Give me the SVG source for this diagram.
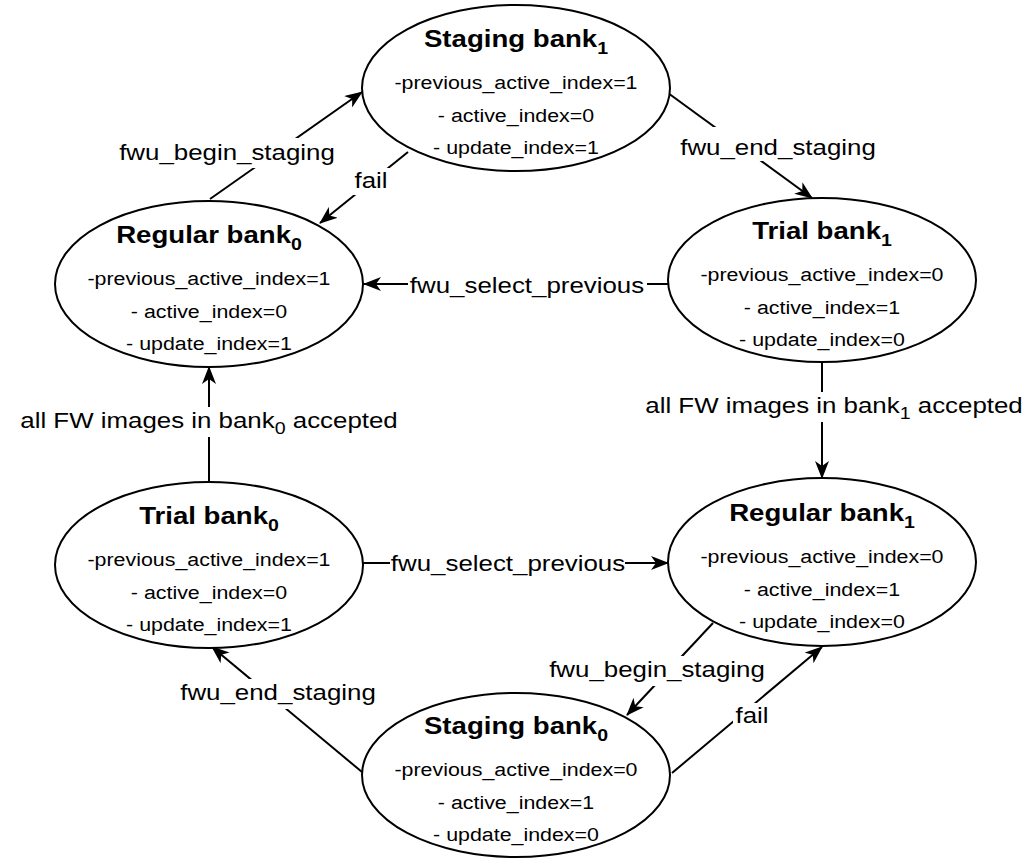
<svg xmlns="http://www.w3.org/2000/svg" width="1033" height="858" viewBox="0 0 1033 858">
  <style>
    .state { fill: #ffffff; stroke: #000000; stroke-width: 2; }
    .title { font-family: "Liberation Sans", Arial, sans-serif; font-size: 24px; font-weight: bold; fill: #000000; text-anchor: middle; }
    .attr { font-family: "Liberation Sans", Arial, sans-serif; font-size: 18.6px; fill: #000000; text-anchor: middle; }
    .edge { fill: none; stroke: #000000; stroke-width: 2; }
    .lbl { font-family: "Liberation Sans", Arial, sans-serif; font-size: 22.5px; fill: #000000; text-anchor: middle; }
    .lblbg { fill: #ffffff; stroke: none; }
  </style>
  <defs>
    <marker id="arrow" viewBox="0 0 18 14" refX="17" refY="7" markerWidth="18" markerHeight="14" markerUnits="userSpaceOnUse" orient="auto">
      <path d="M0,0 L18,7 L0,14 L5,7 Z" fill="#000000"/>
    </marker>
  </defs>
  <rect width="1033" height="858" fill="#ffffff"/>

  <!-- transitions -->
  <g id="connectors">
    <line class="edge" x1="210" y1="199" x2="362" y2="92" marker-end="url(#arrow)"/>
    <line class="edge" x1="408" y1="152" x2="320" y2="223" marker-end="url(#arrow)"/>
    <line class="edge" x1="668" y1="93" x2="812" y2="198" marker-end="url(#arrow)"/>
    <line class="edge" x1="668" y1="284" x2="364" y2="284" marker-end="url(#arrow)"/>
    <line class="edge" x1="822" y1="362" x2="822" y2="478" marker-end="url(#arrow)"/>
    <line class="edge" x1="209" y1="482" x2="209" y2="367" marker-end="url(#arrow)"/>
    <line class="edge" x1="363" y1="563" x2="668" y2="563" marker-end="url(#arrow)"/>
    <line class="edge" x1="713" y1="623" x2="627" y2="715" marker-end="url(#arrow)"/>
    <line class="edge" x1="672" y1="773" x2="822" y2="647" marker-end="url(#arrow)"/>
    <line class="edge" x1="362" y1="772" x2="212" y2="647" marker-end="url(#arrow)"/>

    <!-- edge labels -->
    <rect class="lblbg" x="117" y="138" width="221" height="30"/>
    <text class="lbl" transform="translate(227,160) scale(1.15,1)">fwu_begin_staging</text>

    <rect class="lblbg" x="352" y="168" width="39" height="27"/>
    <text class="lbl" transform="translate(371,188) scale(1.15,1)">fail</text>

    <rect class="lblbg" x="677" y="127" width="202" height="34"/>
    <text class="lbl" transform="translate(778,155) scale(1.15,1)">fwu_end_staging</text>

    <rect class="lblbg" x="408" y="270" width="239" height="30"/>
    <text class="lbl" transform="translate(527,293) scale(1.15,1)">fwu_select_previous</text>

    <rect class="lblbg" x="643" y="392" width="382" height="30"/>
    <text class="lbl" transform="translate(834,413) scale(1.15,1)">all FW images in bank<tspan font-size="17" dy="6">1</tspan><tspan dy="-6"> accepted</tspan></text>

    <rect class="lblbg" x="18" y="407" width="382" height="30"/>
    <text class="lbl" transform="translate(209,428) scale(1.15,1)">all FW images in bank<tspan font-size="17" dy="6">0</tspan><tspan dy="-6"> accepted</tspan></text>

    <rect class="lblbg" x="390" y="549" width="235" height="30"/>
    <text class="lbl" transform="translate(508,571) scale(1.15,1)">fwu_select_previous</text>

    <rect class="lblbg" x="548" y="656" width="219" height="30"/>
    <text class="lbl" transform="translate(657,677) scale(1.15,1)">fwu_begin_staging</text>

    <rect class="lblbg" x="733" y="703" width="37" height="27"/>
    <text class="lbl" transform="translate(752,723) scale(1.15,1)">fail</text>

    <rect class="lblbg" x="178" y="679" width="199" height="30"/>
    <text class="lbl" transform="translate(278,700) scale(1.15,1)">fwu_end_staging</text>
  </g>

  <!-- states -->
  <g id="staging-bank1">
    <ellipse class="state" cx="516" cy="88" rx="154" ry="83"/>
    <g transform="translate(516,88) scale(1.15,1)">
      <text class="title" y="-41">Staging bank<tspan font-size="17" dy="7">1</tspan></text>
      <text class="attr" y="1">-previous_active_index=1</text>
      <text class="attr" y="34">- active_index=0</text>
      <text class="attr" y="66">- update_index=1</text>
    </g>
  </g>

  <g id="regular-bank0">
    <ellipse class="state" cx="209" cy="284" rx="154" ry="83"/>
    <g transform="translate(209,284) scale(1.15,1)">
      <text class="title" y="-41">Regular bank<tspan font-size="17" dy="7">0</tspan></text>
      <text class="attr" y="1">-previous_active_index=1</text>
      <text class="attr" y="34">- active_index=0</text>
      <text class="attr" y="66">- update_index=1</text>
    </g>
  </g>

  <g id="trial-bank1">
    <ellipse class="state" cx="822" cy="280" rx="154" ry="82"/>
    <g transform="translate(822,280) scale(1.15,1)">
      <text class="title" y="-41">Trial bank<tspan font-size="17" dy="7">1</tspan></text>
      <text class="attr" y="1">-previous_active_index=0</text>
      <text class="attr" y="34">- active_index=1</text>
      <text class="attr" y="66">- update_index=0</text>
    </g>
  </g>

  <g id="trial-bank0">
    <ellipse class="state" cx="209" cy="565" rx="154" ry="83"/>
    <g transform="translate(209,565) scale(1.15,1)">
      <text class="title" y="-41">Trial bank<tspan font-size="17" dy="7">0</tspan></text>
      <text class="attr" y="1">-previous_active_index=1</text>
      <text class="attr" y="34">- active_index=0</text>
      <text class="attr" y="66">- update_index=1</text>
    </g>
  </g>

  <g id="regular-bank1">
    <ellipse class="state" cx="822" cy="562" rx="154" ry="84"/>
    <g transform="translate(822,562) scale(1.15,1)">
      <text class="title" y="-41">Regular bank<tspan font-size="17" dy="7">1</tspan></text>
      <text class="attr" y="1">-previous_active_index=0</text>
      <text class="attr" y="34">- active_index=1</text>
      <text class="attr" y="66">- update_index=0</text>
    </g>
  </g>

  <g id="staging-bank0">
    <ellipse class="state" cx="516" cy="775" rx="154" ry="82"/>
    <g transform="translate(516,775) scale(1.15,1)">
      <text class="title" y="-41">Staging bank<tspan font-size="17" dy="7">0</tspan></text>
      <text class="attr" y="1">-previous_active_index=0</text>
      <text class="attr" y="34">- active_index=1</text>
      <text class="attr" y="66">- update_index=0</text>
    </g>
  </g>
</svg>
